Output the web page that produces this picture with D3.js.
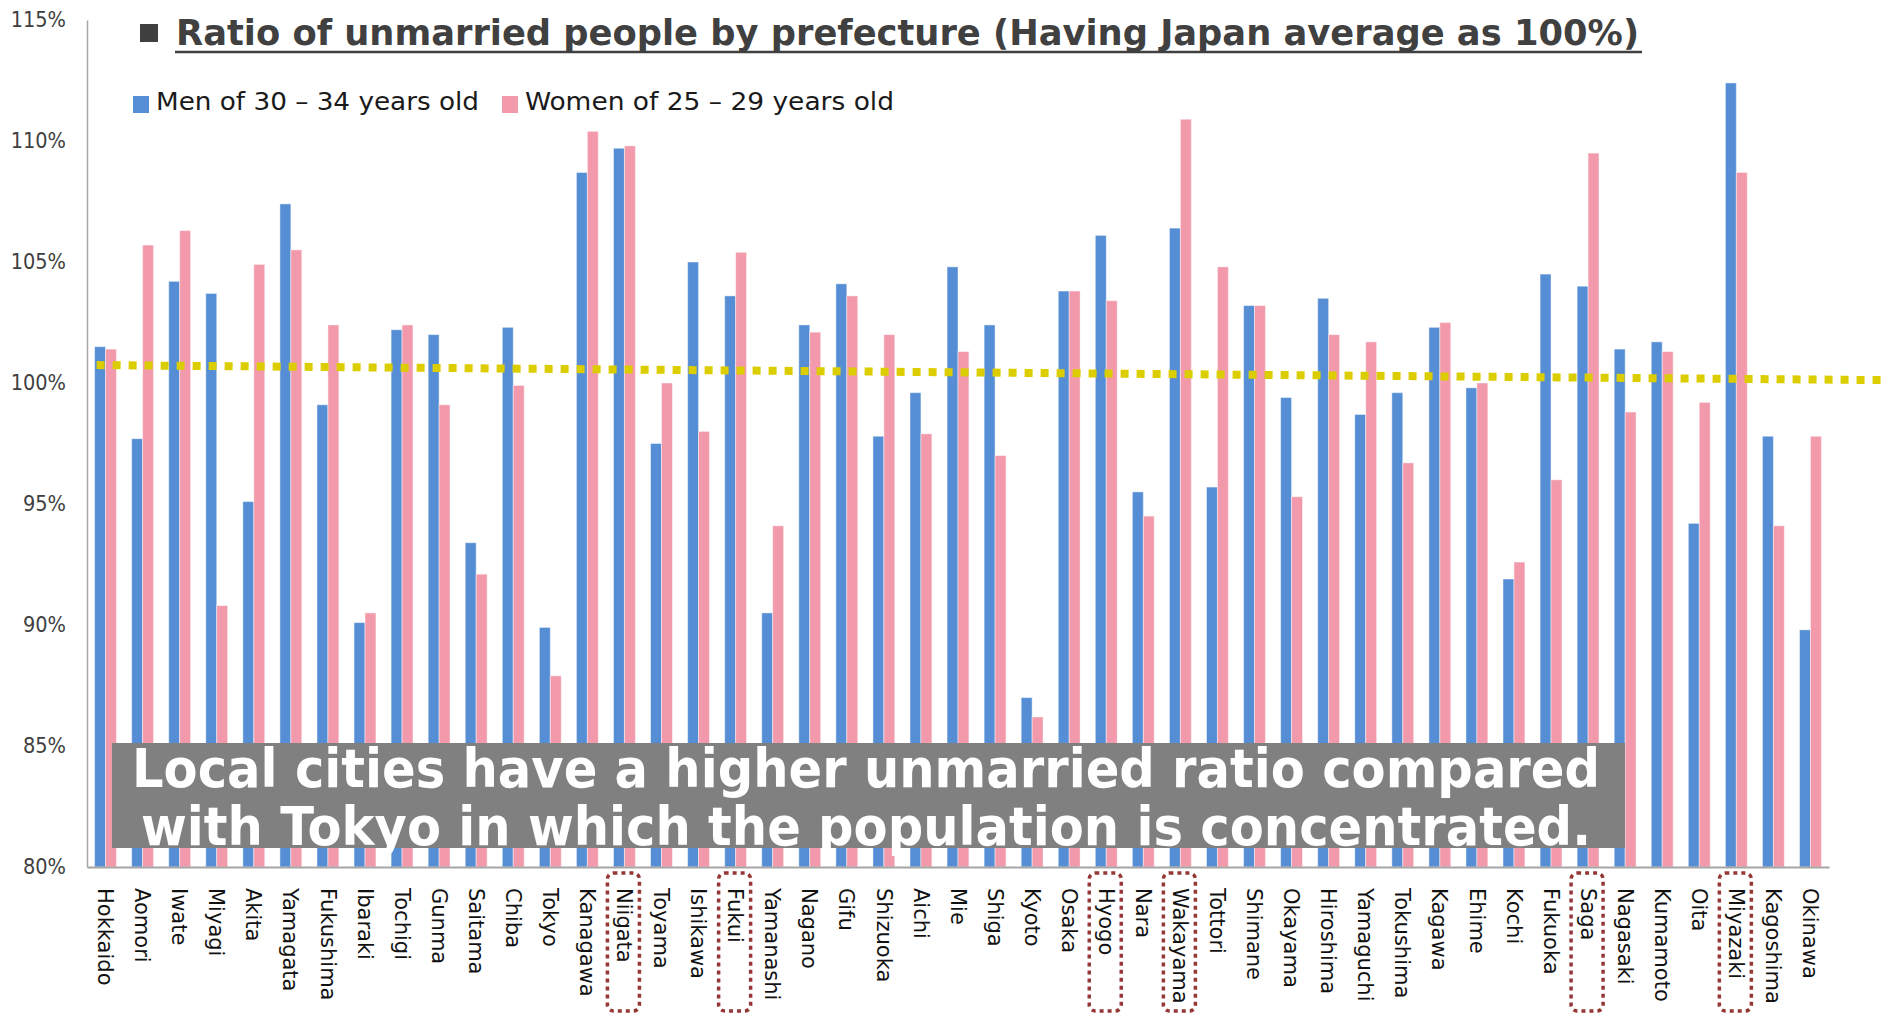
<!DOCTYPE html>
<html>
<head>
<meta charset="utf-8">
<script src="https://cdn.jsdelivr.net/npm/d3@7"></script>
<style>
  html, body { margin: 0; padding: 0; background: #fff; }
  svg { display: block; }
</style>
</head>
<body>
<div id="chart"></div>
<script>
// --- data ---
const prefectures = ['Hokkaido', 'Aomori', 'Iwate', 'Miyagi', 'Akita', 'Yamagata', 'Fukushima', 'Ibaraki',
  'Tochigi', 'Gunma', 'Saitama', 'Chiba', 'Tokyo', 'Kanagawa', 'Niigata', 'Toyama', 'Ishikawa', 'Fukui',
  'Yamanashi', 'Nagano', 'Gifu', 'Shizuoka', 'Aichi', 'Mie', 'Shiga', 'Kyoto', 'Osaka', 'Hyogo', 'Nara',
  'Wakayama', 'Tottori', 'Shimane', 'Okayama', 'Hiroshima', 'Yamaguchi', 'Tokushima', 'Kagawa', 'Ehime',
  'Kochi', 'Fukuoka', 'Saga', 'Nagasaki', 'Kumamoto', 'Oita', 'Miyazaki', 'Kagoshima', 'Okinawa'];

const men30to34 = [101.5, 97.7, 104.2, 103.7, 95.1, 107.4, 99.1, 90.1, 102.2, 102.0, 93.4, 102.3, 89.9, 108.7,
  109.7, 97.5, 105.0, 103.6, 90.5, 102.4, 104.1, 97.8, 99.6, 104.8, 102.4, 87.0, 103.8, 106.1, 95.5, 106.4,
  95.7, 103.2, 99.4, 103.5, 98.7, 99.6, 102.3, 99.8, 91.9, 104.5, 104.0, 101.4, 101.7, 94.2, 112.4, 97.8, 89.8];

const women25to29 = [101.4, 105.7, 106.3, 90.8, 104.9, 105.5, 102.4, 90.5, 102.4, 99.1, 92.1, 99.9, 87.9, 110.4,
  109.8, 100.0, 98.0, 105.4, 94.1, 102.1, 103.6, 102.0, 97.9, 101.3, 97.0, 86.2, 103.8, 103.4, 94.5, 110.9,
  104.8, 103.2, 95.3, 102.0, 101.7, 96.7, 102.5, 100.0, 92.6, 96.0, 109.5, 98.8, 101.3, 99.2, 108.7, 94.1, 97.8];

const seriesNames = ['Men of 30 \u2013 34 years old', 'Women of 25 \u2013 29 years old'];
const yTicks = [80, 85, 90, 95, 100, 105, 110, 115];

// dotted trend line: category index -> value
const trendIdx = [-0.24, 47.95];
const trendVals = [100.74, 100.12];

const highlighted = ['Niigata', 'Fukui', 'Hyogo', 'Wakayama', 'Saga', 'Miyazaki'];

const titleText = 'Ratio of unmarried people by prefecture (Having Japan average as 100%)';
const noteLines = ['Local cities have a higher unmarried ratio compared',
  'with Tokyo in which the population is concentrated.'];

// --- layout ---
const width = 1895, height = 1014;
const plot = { left: 87, right: 1829, top: 20, bottom: 867 };
const colors = ['#558ed5', '#f29aab'];
const narrow = '"DejaVu Sans Condensed", "DejaVu Sans", sans-serif';

const svg = d3.select('#chart').append('svg')
  .attr('width', width)
  .attr('height', height);

const x = d3.scaleBand()
  .domain(prefectures)
  .range([plot.left, plot.right])
  .paddingInner(0.41)
  .paddingOuter(0.205);

const xSub = d3.scaleBand()
  .domain([0, 1])
  .range([0, x.bandwidth()]);

const y = d3.scaleLinear()
  .domain([80, 115])
  .range([plot.bottom, plot.top]);

const rows = prefectures.map((p, i) => ({ name: p, values: [men30to34[i], women25to29[i]] }));

// --- bars ---
const groups = svg.append('g').selectAll('g')
  .data(rows)
  .join('g')
  .attr('transform', d => `translate(${x(d.name)},0)`);

groups.selectAll('rect')
  .data(d => d.values.map((v, k) => ({ v, k })))
  .join('rect')
  .attr('x', d => xSub(d.k))
  .attr('width', xSub.bandwidth())
  .attr('y', d => y(d.v))
  .attr('height', d => y(80) - y(d.v))
  .attr('fill', d => colors[d.k])
  .attr('stroke', 'rgba(255,255,255,0.45)')
  .attr('stroke-width', 1);

// --- trend line ---
const xIdx = d3.scaleLinear()
  .domain([0, prefectures.length - 1])
  .range([x(prefectures[0]) + x.bandwidth() / 2, x(prefectures[prefectures.length - 1]) + x.bandwidth() / 2]);

svg.append('path')
  .datum(trendIdx.map((t, i) => [t, trendVals[i]]))
  .attr('fill', 'none')
  .attr('stroke', '#dccd00')
  .attr('stroke-width', 8)
  .attr('stroke-dasharray', '8,8')
  .attr('d', d3.line().x(d => xIdx(d[0])).y(d => y(d[1])));

// --- axes ---
const yAxis = svg.append('g')
  .attr('transform', `translate(${plot.left},0)`)
  .call(d3.axisLeft(y).tickValues(yTicks).tickFormat(d => d + '%').tickSize(0).tickSizeOuter(0).tickPadding(21));
yAxis.select('.domain').attr('stroke', '#a6a6a6').attr('stroke-width', 1.5);
yAxis.selectAll('text')
  .style('font-family', narrow)
  .style('font-size', '21.5px')
  .attr('fill', '#404040');

const xAxis = svg.append('g')
  .attr('transform', `translate(0,${plot.bottom})`)
  .call(d3.axisBottom(x).tickSize(0).tickSizeOuter(0));
xAxis.select('.domain').attr('stroke', '#a6a6a6').attr('stroke-width', 2);
xAxis.selectAll('text')
  .attr('y', 0)
  .attr('x', 21)
  .attr('dy', '0.35em')
  .attr('transform', 'rotate(90)')
  .style('text-anchor', 'start')
  .style('font-family', '"DejaVu Sans", sans-serif')
  .style('font-size', '21px')
  .attr('fill', '#111');

// dotted frames around some labels
svg.append('g').selectAll('rect')
  .data(highlighted)
  .join('rect')
  .attr('x', d => x(d) + x.bandwidth() / 2 - 17)
  .attr('y', 873)
  .attr('width', 32)
  .attr('height', 138)
  .attr('rx', 6)
  .attr('fill', 'none')
  .attr('stroke', '#953735')
  .attr('stroke-width', 3.5)
  .attr('stroke-dasharray', '4,4');

// --- annotation box ---
svg.append('rect')
  .attr('x', 112).attr('y', 743)
  .attr('width', 1513).attr('height', 105)
  .attr('fill', '#808080');

svg.append('g').selectAll('text')
  .data(noteLines)
  .join('text')
  .attr('x', 866)
  .attr('y', (d, i) => 787 + i * 58)
  .attr('text-anchor', 'middle')
  .attr('textLength', (d, i) => i === 0 ? 1468 : 1450)
  .attr('lengthAdjust', 'spacingAndGlyphs')
  .style('font-family', '"DejaVu Sans", sans-serif')
  .style('font-weight', 'bold')
  .style('font-size', '54px')
  .attr('fill', '#fff')
  .text(d => d);

// --- title ---
svg.append('rect')
  .attr('x', 140).attr('y', 24)
  .attr('width', 18).attr('height', 18)
  .attr('fill', '#404040');

svg.append('text')
  .attr('x', 176)
  .attr('y', 45)
  .attr('textLength', 1463)
  .attr('lengthAdjust', 'spacingAndGlyphs')
  .style('font-family', narrow)
  .style('font-weight', 'bold')
  .style('font-size', '36px')
  .attr('fill', '#404040')
  .text(titleText);

svg.append('line')
  .attr('x1', 175).attr('x2', 1642)
  .attr('y1', 52).attr('y2', 52)
  .attr('stroke', '#404040')
  .attr('stroke-width', 2.5);

// --- legend ---
const legendX = [133, 502];
const legendLen = [323, 369];
const legend = svg.append('g').selectAll('g')
  .data(seriesNames)
  .join('g')
  .attr('transform', (d, i) => `translate(${legendX[i]},0)`);

legend.append('rect')
  .attr('x', 0).attr('y', 96)
  .attr('width', 16).attr('height', 17)
  .attr('fill', (d, i) => colors[i]);

legend.append('text')
  .attr('x', 23)
  .attr('y', 110)
  .attr('textLength', (d, i) => legendLen[i])
  .attr('lengthAdjust', 'spacingAndGlyphs')
  .style('font-family', narrow)
  .style('font-size', '24px')
  .attr('fill', '#1a1a1a')
  .text(d => d);
</script>
</body>
</html>
